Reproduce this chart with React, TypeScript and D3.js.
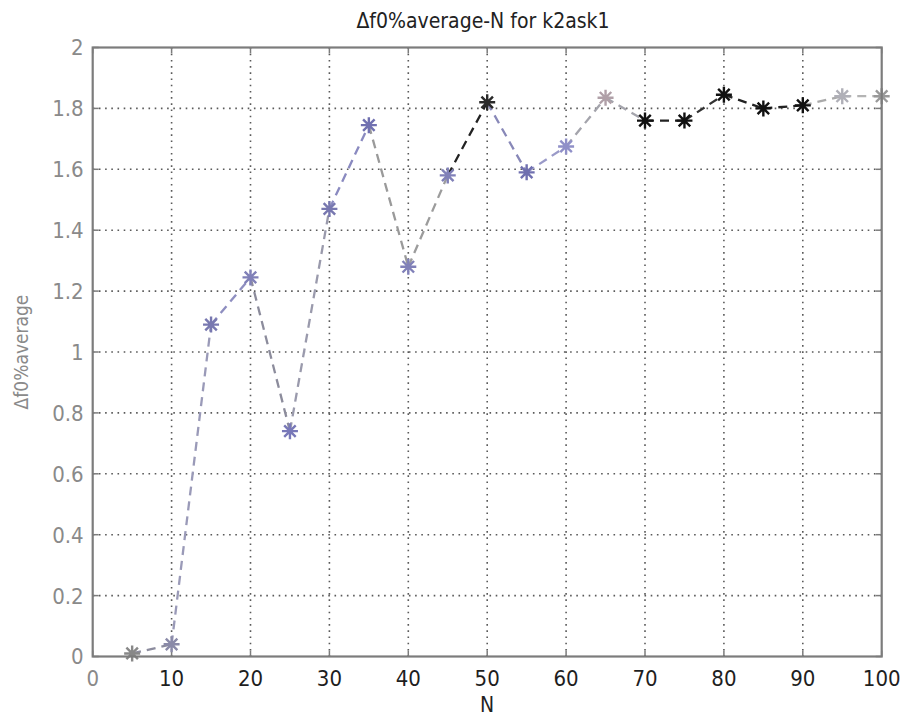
import React from "react";
import * as d3 from "d3";

const nValues = [5, 10, 15, 20, 25, 30, 35, 40, 45, 50, 55, 60, 65, 70, 75, 80, 85, 90, 95, 100];
const avgValues = [0.01, 0.04, 1.09, 1.245, 0.74, 1.47, 1.745, 1.28, 1.58, 1.82, 1.59, 1.675, 1.835, 1.76, 1.76, 1.845, 1.8, 1.81, 1.84, 1.84];
const xTicks = [0, 10, 20, 30, 40, 50, 60, 70, 80, 90, 100];
const yTicks = [0, 0.2, 0.4, 0.6, 0.8, 1, 1.2, 1.4, 1.6, 1.8, 2];
const titleText = "Δf0%average-N for k2ask1";
const xLabelText = "N";
const yLabelText = "Δf0%average";

// per-segment and per-marker colours (the scanned figure shows mixed tones)
const segmentColors = [
  "#8c8c9e", "#9a9ab8", "#8e8ec0", "#8c8c9c", "#9a9aac", "#8a8ac0", "#9a9a9a", "#9c9c9c", "#222222",
  "#8888b8", "#9a9ac8", "#a4a4ac", "#a4a4ac", "#222222", "#333333", "#222222", "#222222", "#aaaaaa", "#b4b4b4",
];
const pointColors = [
  "#888888", "#8a8aa8", "#7878b0", "#8080b8", "#7878b8", "#7878b0", "#7070b0", "#8080b8", "#8080b8", "#2a2a2a",
  "#7070b0", "#9090c8", "#b0a0a8", "#111111", "#111111", "#111111", "#111111", "#111111", "#b0b0b8", "#999999",
];

const W = 906;
const H = 719;
const L = 92.7;
const R = 881.7;
const T = 47.5;
const B = 656.5;
const FONT = "'DejaVu Sans Condensed', 'DejaVu Sans', sans-serif";
const cond = { fontStretch: "condensed" as const };

export default function App() {
  const x = d3.scaleLinear().domain([0, 100]).range([L, R]);
  const y = d3.scaleLinear().domain([0, 2]).range([B, T]);
  const axisColor = "#7c7c7c";
  const gridColor = "#5a5a5a";
  const fmt = (v: number) => String(Math.round(v * 10) / 10);
  const lineGen = d3.line<[number, number]>().x((d) => x(d[0])).y((d) => y(d[1]));

  const segments = nValues.slice(0, -1).map((n, i) => ({
    d: lineGen([[n, avgValues[i]], [nValues[i + 1], avgValues[i + 1]]]) as string,
    color: segmentColors[i],
  }));

  const star = (cx: number, cy: number, r: number) => {
    const k = r * 0.72;
    return `M${cx - r},${cy}L${cx + r},${cy}M${cx},${cy - r}L${cx},${cy + r}` +
      `M${cx - k},${cy - k}L${cx + k},${cy + k}M${cx - k},${cy + k}L${cx + k},${cy - k}`;
  };

  return (
    <svg width={W} height={H} style={{ position: "absolute", left: 0, top: 0, background: "#fff" }}>
      <rect x={0} y={0} width={W} height={H} fill="#fff" />
      {/* grid */}
      {xTicks.slice(1, -1).map((t) => (
        <line key={"gx" + t} x1={x(t)} x2={x(t)} y1={T} y2={B} stroke={gridColor} strokeWidth={1.6} strokeDasharray="1.6 4.6" />
      ))}
      {yTicks.slice(1, -1).map((t) => (
        <line key={"gy" + t} x1={L} x2={R} y1={y(t)} y2={y(t)} stroke={gridColor} strokeWidth={1.6} strokeDasharray="1.6 4.6" />
      ))}
      {/* ticks */}
      {xTicks.map((t) => (
        <g key={"tx" + t} stroke={axisColor} strokeWidth={1.5}>
          <line x1={x(t)} x2={x(t)} y1={B} y2={B - 6} />
          <line x1={x(t)} x2={x(t)} y1={T} y2={T + 6} />
        </g>
      ))}
      {yTicks.map((t) => (
        <g key={"ty" + t} stroke={axisColor} strokeWidth={1.5}>
          <line x1={L} x2={L + 6} y1={y(t)} y2={y(t)} />
          <line x1={R} x2={R - 6} y1={y(t)} y2={y(t)} />
        </g>
      ))}
      {/* data */}
      {segments.map((s, i) => (
        <path key={"s" + i} d={s.d} fill="none" stroke={s.color} strokeWidth={2.3} strokeDasharray="9 6" />
      ))}
      {nValues.map((n, i) => (
        <path key={"p" + i} d={star(x(n), y(avgValues[i]), 8)} fill="none" stroke={pointColors[i]} strokeWidth={2.4} />
      ))}
      {/* box */}
      <rect x={L} y={T} width={R - L} height={B - T} fill="none" stroke={axisColor} strokeWidth={2.2} />
      {/* tick labels */}
      {yTicks.map((t) => (
        <text key={"ly" + t} x={L - 9} y={y(t)} dy="0.36em" textAnchor="end" fontFamily={FONT} style={cond} fontSize={22} fill="#8a8a8a">
          {fmt(t)}
        </text>
      ))}
      {xTicks.map((t) => (
        <text key={"lx" + t} x={x(t)} y={686} textAnchor="middle" fontFamily={FONT} style={cond} fontSize={22} fill={t === 0 ? "#8a8a8a" : "#1e1e1e"}>
          {fmt(t)}
        </text>
      ))}
      {/* labels */}
      <text x={483} y={28} textAnchor="middle" fontFamily={FONT} style={cond} fontSize={21} fill="#222">{titleText}</text>
      <text x={487} y={712} textAnchor="middle" fontFamily={FONT} style={cond} fontSize={21} fill="#222">{xLabelText}</text>
      <text transform={`translate(28,352) rotate(-90)`} textAnchor="middle" fontFamily={FONT} style={cond} fontSize={19} fill="#8a8a8a">
        {yLabelText}
      </text>
    </svg>
  );
}
